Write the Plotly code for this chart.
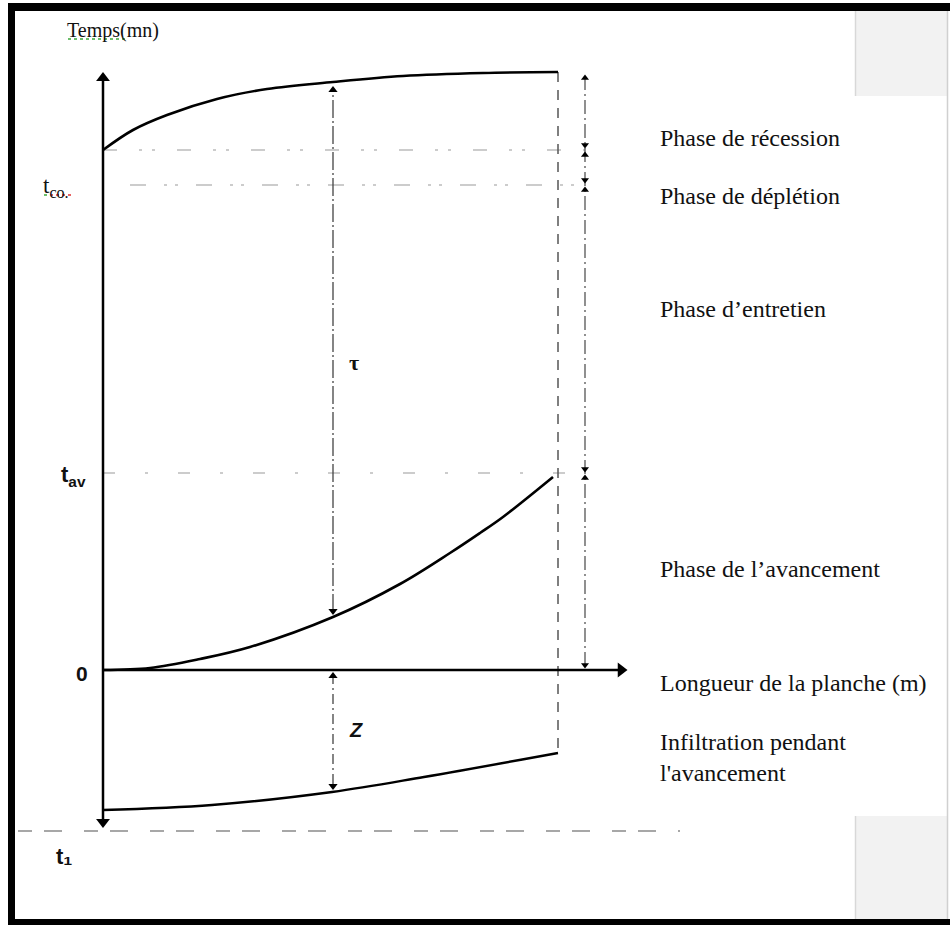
import plotly.graph_objects as go

W, H = 950, 926
X0, Y0 = 103, 670  # pixel position of the origin (length 0, time 0)

# ---------------- data (schematic units: length, time) ----------------
recession_x = [0, 30, 64, 114, 164, 230, 300, 380, 455]
recession_t = [520, 540, 555, 571, 581, 588, 594, 597, 598]

advance_x = [0, 47, 97, 147, 230, 297, 347, 377, 400, 450]
advance_t = [0, 2, 11, 23, 53, 86, 117, 137, 153, 193]

infiltration_x = [0, 109, 229, 321, 455]
infiltration_z = [-140, -135, -122, -107, -83]

t_rec = 520        # start of recession
t_co = 485         # cut-off time
t_av = 197         # advance time
t_low = -161       # lower reference line
L_end = 455        # end of the border
L_mark = 482       # phase-duration marker line
x_tau = 230        # position of tau / Z arrows
y_top = 598
y_bottom = -158
x_right = 525

phase_labels = ["Phase de récession", "Phase de déplétion", "Phase d’entretien",
                "Phase de l’avancement", "Longueur de la planche (m)",
                "Infiltration pendant<br>l'avancement"]
phase_label_t = [532, 474, 361, 101, -13, -87]

fig = go.Figure()

def line(xs, ys, color="black", width=2.5, dash="solid", shape="linear"):
    fig.add_trace(go.Scatter(x=xs, y=ys, mode="lines",
                             line=dict(color=color, width=width, dash=dash, shape=shape),
                             hoverinfo="skip", showlegend=False))

def heads(xs, ys, symbols, size=11, color="black"):
    fig.add_trace(go.Scatter(x=xs, y=ys, mode="markers",
                             marker=dict(symbol=symbols, size=size, color=color,
                                         line=dict(width=0)),
                             hoverinfo="skip", showlegend=False))

# reference dash lines
line([0, L_mark], [t_rec, t_rec], color="#9a9a9a", width=1.2, dash="14px,22px,3px,10px,3px,22px")
line([27, L_mark], [t_co, t_co], color="#9a9a9a", width=1.2, dash="16px,18px,3px,8px,3px,18px")
line([0, L_mark], [t_av, t_av], color="#9a9a9a", width=1.2, dash="12px,30px,3px,30px")
line([-85, 577], [t_low, t_low], color="#8a8a8a", width=1.5, dash="14px,12px,18px,22px")

# vertical dashed at end of border
line([L_end, L_end], [y_top, -85], color="#555555", width=1.5, dash="10px,8px")
# vertical phase marker line
line([L_mark, L_mark], [y_top - 4, 0], color="#555555", width=1.3, dash="14px,4px,2px,4px")
heads([L_mark, L_mark, L_mark, L_mark, L_mark, L_mark, L_mark, L_mark],
      [y_top - 6, t_rec + 5, t_rec - 5, t_co + 5, t_co - 5, t_av + 4, 5, t_av - 5],
      ["triangle-up", "triangle-down", "triangle-up", "triangle-down", "triangle-up",
       "triangle-down", "triangle-down", "triangle-up"], size=7)

# tau and Z arrows
line([x_tau, x_tau], [58, 582], color="#444444", width=1.3, dash="18px,3px,2px,3px")
heads([x_tau, x_tau], [580, 59], ["triangle-up", "triangle-down"], size=8)
line([x_tau, x_tau], [-4, -118], color="#444444", width=1.3, dash="10px,4px,2px,4px")
heads([x_tau, x_tau], [-6, -116], ["triangle-up", "triangle-down"], size=8)

# axes
line([0, 0], [y_bottom + 6, y_top - 4], width=2.5)
heads([0, 0], [y_top - 6, y_bottom + 6], ["triangle-up", "triangle-down"], size=12)
line([0, x_right - 6], [0, 0], width=2.5)
heads([x_right - 7], [0], ["triangle-right"], size=13)

# curves
line(recession_x, recession_t, width=2.6, shape="spline")
line(advance_x, advance_t, width=2.6, shape="spline")
line(infiltration_x, infiltration_z, width=2.4, shape="spline")

# ---------------- annotations ----------------
serif = "Liberation Serif"
sans = "Liberation Sans"
ann = []
def text(x, y, s, size, family=serif, xanchor="left", **kw):
    ann.append(dict(x=x, y=y, text=s, showarrow=False, xanchor=xanchor, yanchor="middle",
                    font=dict(family=family, size=size, color="#111111"), **kw))

for lbl, tt in zip(phase_labels, phase_label_t):
    text(555, tt, lbl, 24, align="left")

text(-38, 640, "Temps(mn)", 20)
text(-62, 483, "t<sub>co.</sub>", 23)
text(-44, 194, "<b>t<sub>av</sub></b>", 22, family=sans)
text(-29, -3, "<b>0</b>", 21, family=sans)
text(-49, -186, "<b>t₁</b>", 22, family=sans)
text(244, 308, "<b>τ</b>", 22)
text(244, -60, "<b><i>Z</i></b>", 20, family=sans)

fig.update_layout(annotations=ann)

# ---------------- frame & decoration (paper coords) ----------------
def px(x):
    return x / W
def py(y):
    return 1 - y / H

shapes = [
    dict(type="rect", xref="paper", yref="paper", x0=px(855), x1=px(948), y0=py(11), y1=py(96),
         fillcolor="#f2f2f2", line=dict(width=0), layer="below"),
    dict(type="rect", xref="paper", yref="paper", x0=px(855), x1=px(948), y0=py(816), y1=py(919),
         fillcolor="#f2f2f2", line=dict(width=0), layer="below"),
    dict(type="line", xref="paper", yref="paper", x0=px(855.5), x1=px(855.5), y0=py(11), y1=py(96),
         line=dict(color="#d8d8d8", width=1.5)),
    dict(type="line", xref="paper", yref="paper", x0=px(855.5), x1=px(855.5), y0=py(816), y1=py(919),
         line=dict(color="#d8d8d8", width=1.5)),
    dict(type="line", xref="paper", yref="paper", x0=px(947.5), x1=px(947.5), y0=py(11), y1=py(919),
         line=dict(color="#d0d0d0", width=1.5)),
    dict(type="rect", xref="paper", yref="paper", x0=px(8), x1=px(15), y0=py(3), y1=py(925),
         fillcolor="black", line=dict(width=0)),
    dict(type="rect", xref="paper", yref="paper", x0=px(8), x1=px(950), y0=py(3), y1=py(11),
         fillcolor="black", line=dict(width=0)),
    dict(type="rect", xref="paper", yref="paper", x0=px(8), x1=px(950), y0=py(919), y1=py(925),
         fillcolor="black", line=dict(width=0)),
    # spell-check underlines
    dict(type="line", xref="paper", yref="paper", x0=px(68), x1=px(128), y0=py(39), y1=py(39),
         line=dict(color="#3aa83a", width=1.5, dash="dot")),
    dict(type="line", xref="paper", yref="paper", x0=px(44), x1=px(50), y0=py(195), y1=py(195),
         line=dict(color="#3aa83a", width=1.5, dash="dot")),
    dict(type="line", xref="paper", yref="paper", x0=px(50), x1=px(72), y0=py(195), y1=py(195),
         line=dict(color="#e03030", width=1.5, dash="dot")),
]
fig.update_layout(shapes=shapes)

fig.update_layout(
    width=W, height=H,
    margin=dict(l=0, r=0, t=0, b=0, pad=0),
    paper_bgcolor="white", plot_bgcolor="white",
    xaxis=dict(range=[-X0, W - X0], visible=False, fixedrange=True),
    yaxis=dict(range=[Y0 - H, Y0], visible=False, fixedrange=True),
    showlegend=False,
)

fig.write_html("out.html", config={"displayModeBar": False},
               post_script="document.body.style.margin='0px';document.body.style.overflow='hidden';")
